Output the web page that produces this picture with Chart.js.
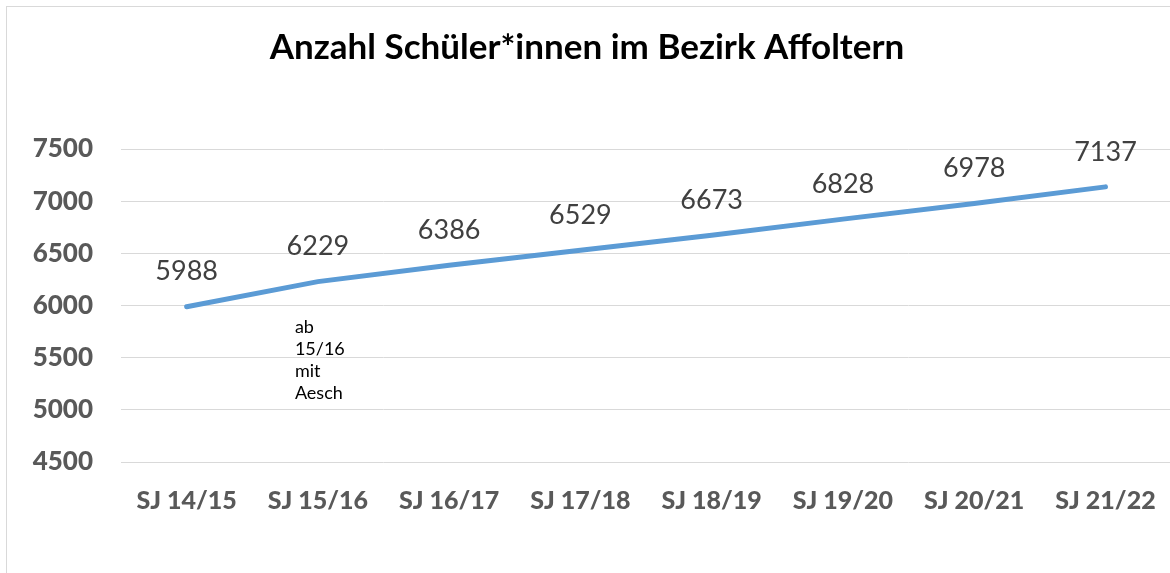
<!DOCTYPE html>
<html>
<head>
<meta charset="utf-8">
<script src="https://cdn.jsdelivr.net/npm/chart.js@4/dist/chart.umd.min.js"></script>
<style>
  html, body { margin: 0; padding: 0; overflow: hidden; background: #fff; }
  #wrap { position: relative; width: 1170px; height: 573px; overflow: hidden; }
  #frame { position: absolute; left: 6px; top: 6px; width: 1200px; height: 600px;
           border: 1px solid #d9d9d9; pointer-events: none; }
  canvas { position: absolute; left: 0; top: 0; }
</style>
</head>
<body>
<div id="wrap">
  <canvas id="chart" width="1180" height="573"></canvas>
  <div id="frame"></div>
</div>
<script>
// Schuljahre und Anzahl Schüler*innen
var years = ["SJ 14/15", "SJ 15/16", "SJ 16/17", "SJ 17/18", "SJ 18/19", "SJ 19/20", "SJ 20/21", "SJ 21/22"];
var pupils = [5988, 6229, 6386, 6529, 6673, 6828, 6978, 7137];
var noteLines = ["ab", "15/16", "mit", "Aesch"];
var noteIndex = 1;

var FONT = "Lato, 'Open Sans', sans-serif";

// values above points + note under the 2nd point
var labelsPlugin = {
  id: 'pointLabels',
  afterDatasetsDraw: function (chart) {
    var ctx = chart.ctx;
    var pts = chart.getDatasetMeta(0).data;
    ctx.save();
    ctx.font = "27px " + FONT;
    ctx.fillStyle = "#404040";
    ctx.textAlign = "center";
    ctx.textBaseline = "middle";
    pts.forEach(function (p, i) {
      ctx.fillText(String(pupils[i]), p.x, p.y - 35);
    });
    var np = pts[noteIndex];
    ctx.font = "18px " + FONT;
    ctx.fillStyle = "#000";
    ctx.textAlign = "left";
    noteLines.forEach(function (t, i) {
      ctx.fillText(t, np.x - 23, np.y + 46 + i * 22);
    });
    ctx.restore();
  }
};

new Chart(document.getElementById("chart"), {
  type: 'line',
  data: {
    labels: years,
    datasets: [{
      data: pupils,
      borderColor: "#5B9BD5",
      borderWidth: 5,
      borderCapStyle: 'round',
      pointRadius: 0,
      tension: 0,
      fill: false
    }]
  },
  options: {
    responsive: false,
    animation: false,
    devicePixelRatio: 1,
    layout: { padding: { left: 0, right: 6, top: 0, bottom: 0 } },
    plugins: {
      legend: { display: false },
      tooltip: { enabled: false },
      title: {
        display: true,
        text: "Anzahl Schüler*innen im Bezirk Affoltern",
        color: "#000",
        font: { family: FONT, size: 35, weight: 'bold', lineHeight: 1.2 },
        padding: { top: 27, bottom: 80 }
      }
    },
    scales: {
      x: {
        offset: true,
        grid: { display: false, drawTicks: false },
        border: { display: false },
        ticks: {
          color: "#595959",
          font: { family: FONT, size: 25, weight: '900' },
          padding: 24,
          maxRotation: 0,
          autoSkip: false
        },
        afterFit: function (s) { s.height = 111; }
      },
      y: {
        min: 4500,
        max: 7500,
        grid: { color: "#d9d9d9", lineWidth: 1, drawTicks: false },
        border: { display: false },
        ticks: {
          stepSize: 500,
          color: "#595959",
          font: { family: FONT, size: 26, weight: '900' },
          padding: 28,
          callback: function (v) { return String(v); }
        },
        afterFit: function (s) { s.width = 121; }
      }
    }
  },
  plugins: [labelsPlugin]
});
</script>
</body>
</html>
